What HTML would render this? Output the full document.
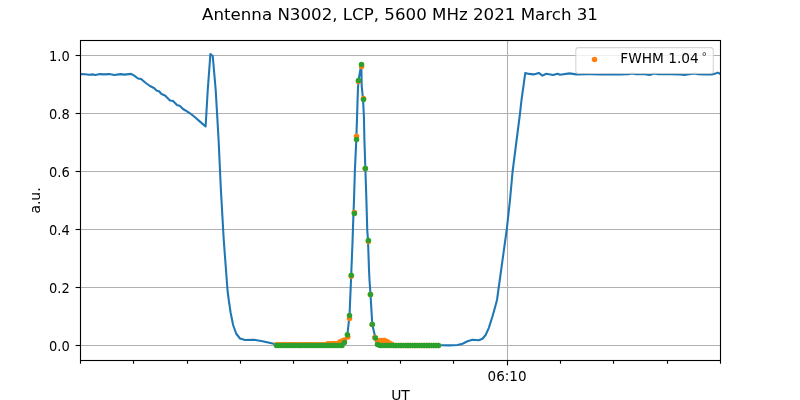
<!DOCTYPE html>
<html lang="en"><head><meta charset="utf-8"><title>Antenna N3002, LCP, 5600 MHz 2021 March 31</title>
<style>html,body{margin:0;padding:0;background:#fff;width:800px;height:400px;overflow:hidden}svg{display:block}</style></head>
<body>
<svg width="800" height="400" viewBox="0 0 800 400" font-family="'DejaVu Sans', 'Liberation Sans', sans-serif">
<rect width="800" height="400" fill="#fff"/>
<g stroke="#b0b0b0" stroke-width="1.11" fill="none">
<line x1="80.5" y1="345.5" x2="720.5" y2="345.5"/>
<line x1="80.5" y1="287.5" x2="720.5" y2="287.5"/>
<line x1="80.5" y1="229.5" x2="720.5" y2="229.5"/>
<line x1="80.5" y1="171.5" x2="720.5" y2="171.5"/>
<line x1="80.5" y1="113.5" x2="720.5" y2="113.5"/>
<line x1="80.5" y1="55.5" x2="720.5" y2="55.5"/>
<line x1="507.5" y1="40.5" x2="507.5" y2="360.5"/>
</g>
<defs><clipPath id="c"><rect x="80.5" y="40.5" width="640" height="320"/></clipPath></defs>
<g clip-path="url(#c)">
<polyline points="80.50,74.10 85.00,74.30 89.25,74.75 93.00,74.40 95.50,75.10 99.90,74.10 104.00,74.40 109.25,74.10 114.25,75.00 120.50,74.10 124.25,74.60 131.10,73.90 134.25,75.60 138.00,78.50 141.10,79.00 145.50,82.75 150.00,86.00 154.00,88.00 156.50,90.50 159.00,91.20 161.50,94.00 165.00,95.50 170.00,100.50 173.00,101.00 177.00,105.00 180.00,106.00 183.00,109.00 187.00,111.30 190.00,113.30 195.00,117.30 200.00,121.60 205.60,126.50 207.75,90.00 210.40,54.10 212.75,56.00 215.70,90.00 218.60,140.00 220.90,190.00 223.75,240.00 227.50,290.00 228.75,300.00 230.60,312.50 233.10,325.00 236.25,333.75 240.00,338.50 245.00,340.00 253.75,339.75 262.50,341.25 273.75,343.75 276.50,345.00 276.50,345.20 330.00,345.00 340.00,344.50 343.50,343.00 345.80,339.50 347.40,334.75 349.50,315.50 351.00,280.00 352.60,240.00 352.90,230.00 353.50,213.00 354.00,200.00 354.90,170.00 356.30,140.00 357.90,90.00 358.50,80.40 361.30,64.50 361.70,86.00 363.00,99.00 363.90,116.00 364.40,140.00 365.40,170.00 366.40,200.00 367.25,230.00 368.00,240.00 369.00,270.00 369.50,280.00 370.50,294.50 372.30,324.50 375.40,337.90 377.50,344.40 385.00,345.30 441.25,345.20 448.75,345.40 457.50,345.00 462.50,343.75 467.50,341.25 472.50,339.75 478.75,340.25 482.50,338.75 485.60,335.00 488.75,328.10 492.50,316.25 495.00,307.50 497.00,300.00 506.75,229.50 510.00,200.00 512.60,171.50 520.00,113.50 521.50,100.00 525.25,73.10 529.00,73.90 533.75,74.40 538.75,72.90 542.50,75.60 546.25,73.75 553.10,75.00 557.50,73.75 560.00,74.75 569.40,73.40 576.25,74.40 587.50,74.10 591.00,74.30 600.00,74.50 610.00,74.30 620.00,74.50 628.00,74.20 632.50,73.40 636.00,74.20 645.00,74.30 649.60,75.00 654.00,73.50 658.00,74.20 670.00,74.30 680.00,74.40 684.50,75.00 689.00,74.30 694.60,73.50 698.00,74.20 705.00,74.40 712.00,74.40 715.50,73.60 717.50,72.60 719.00,73.20 720.50,74.20" fill="none" stroke="#1f77b4" stroke-width="2.08" stroke-linejoin="round" stroke-linecap="butt"/>
<g fill="#ff7f0e"><circle cx="276.50" cy="344.80" r="2.75"/>
<circle cx="278.84" cy="344.80" r="2.75"/>
<circle cx="281.18" cy="344.80" r="2.75"/>
<circle cx="283.52" cy="344.80" r="2.75"/>
<circle cx="285.86" cy="344.80" r="2.75"/>
<circle cx="288.20" cy="344.80" r="2.75"/>
<circle cx="290.54" cy="344.80" r="2.75"/>
<circle cx="292.88" cy="344.80" r="2.75"/>
<circle cx="295.22" cy="344.80" r="2.75"/>
<circle cx="297.56" cy="344.80" r="2.75"/>
<circle cx="299.90" cy="344.80" r="2.75"/>
<circle cx="302.24" cy="344.80" r="2.75"/>
<circle cx="304.58" cy="344.80" r="2.75"/>
<circle cx="306.92" cy="344.80" r="2.75"/>
<circle cx="309.26" cy="344.80" r="2.75"/>
<circle cx="311.60" cy="344.80" r="2.75"/>
<circle cx="313.94" cy="344.80" r="2.75"/>
<circle cx="316.28" cy="344.80" r="2.75"/>
<circle cx="318.62" cy="344.80" r="2.75"/>
<circle cx="320.96" cy="344.80" r="2.75"/>
<circle cx="323.30" cy="344.80" r="2.75"/>
<circle cx="325.64" cy="344.80" r="2.75"/>
<circle cx="327.98" cy="343.80" r="2.75"/>
<circle cx="330.32" cy="343.80" r="2.75"/>
<circle cx="332.66" cy="343.80" r="2.75"/>
<circle cx="335.00" cy="343.80" r="2.75"/>
<circle cx="337.34" cy="343.80" r="2.75"/>
<circle cx="339.68" cy="341.90" r="2.75"/>
<circle cx="342.02" cy="340.90" r="2.75"/>
<circle cx="344.40" cy="340.00" r="2.75"/>
<circle cx="347.80" cy="337.00" r="2.75"/>
<circle cx="349.50" cy="318.50" r="2.75"/>
<circle cx="351.25" cy="276.30" r="2.75"/>
<circle cx="354.40" cy="212.40" r="2.75"/>
<circle cx="356.50" cy="136.20" r="2.75"/>
<circle cx="358.40" cy="81.60" r="2.75"/>
<circle cx="361.60" cy="66.40" r="2.75"/>
<circle cx="363.50" cy="98.40" r="2.75"/>
<circle cx="365.20" cy="168.40" r="2.75"/>
<circle cx="368.40" cy="241.60" r="2.75"/>
<circle cx="370.40" cy="294.60" r="2.75"/>
<circle cx="372.20" cy="324.60" r="2.75"/>
<circle cx="374.90" cy="337.40" r="2.75"/>
<circle cx="377.50" cy="341.20" r="2.75"/>
<circle cx="379.90" cy="340.40" r="2.75"/>
<circle cx="382.24" cy="340.40" r="2.75"/>
<circle cx="384.58" cy="340.40" r="2.75"/>
<circle cx="386.92" cy="341.55" r="2.75"/>
<circle cx="389.26" cy="342.96" r="2.75"/>
<circle cx="391.60" cy="344.36" r="2.75"/>
<circle cx="393.94" cy="345.50" r="2.75"/>
<circle cx="396.28" cy="345.50" r="2.75"/>
<circle cx="398.62" cy="345.50" r="2.75"/>
<circle cx="400.96" cy="345.50" r="2.75"/>
<circle cx="403.30" cy="345.50" r="2.75"/>
<circle cx="405.64" cy="345.50" r="2.75"/>
<circle cx="407.98" cy="345.50" r="2.75"/>
<circle cx="410.32" cy="345.50" r="2.75"/>
<circle cx="412.66" cy="345.50" r="2.75"/>
<circle cx="415.00" cy="345.50" r="2.75"/>
<circle cx="417.34" cy="345.50" r="2.75"/>
<circle cx="419.68" cy="345.50" r="2.75"/>
<circle cx="422.02" cy="345.50" r="2.75"/>
<circle cx="424.36" cy="345.50" r="2.75"/>
<circle cx="426.70" cy="345.50" r="2.75"/>
<circle cx="429.04" cy="345.50" r="2.75"/>
<circle cx="431.38" cy="345.50" r="2.75"/>
<circle cx="433.72" cy="345.50" r="2.75"/>
<circle cx="436.06" cy="345.50" r="2.75"/>
<circle cx="438.40" cy="345.50" r="2.75"/></g>
<g fill="#2ca02c"><circle cx="276.50" cy="345.50" r="2.75"/>
<circle cx="278.84" cy="345.50" r="2.75"/>
<circle cx="281.18" cy="345.50" r="2.75"/>
<circle cx="283.52" cy="345.50" r="2.75"/>
<circle cx="285.86" cy="345.50" r="2.75"/>
<circle cx="288.20" cy="345.50" r="2.75"/>
<circle cx="290.54" cy="345.50" r="2.75"/>
<circle cx="292.88" cy="345.50" r="2.75"/>
<circle cx="295.22" cy="345.50" r="2.75"/>
<circle cx="297.56" cy="345.50" r="2.75"/>
<circle cx="299.90" cy="345.50" r="2.75"/>
<circle cx="302.24" cy="345.50" r="2.75"/>
<circle cx="304.58" cy="345.50" r="2.75"/>
<circle cx="306.92" cy="345.50" r="2.75"/>
<circle cx="309.26" cy="345.50" r="2.75"/>
<circle cx="311.60" cy="345.50" r="2.75"/>
<circle cx="313.94" cy="345.50" r="2.75"/>
<circle cx="316.28" cy="345.50" r="2.75"/>
<circle cx="318.62" cy="345.50" r="2.75"/>
<circle cx="320.96" cy="345.50" r="2.75"/>
<circle cx="323.30" cy="345.50" r="2.75"/>
<circle cx="325.64" cy="345.50" r="2.75"/>
<circle cx="327.98" cy="345.50" r="2.75"/>
<circle cx="330.32" cy="345.50" r="2.75"/>
<circle cx="332.66" cy="345.50" r="2.75"/>
<circle cx="335.00" cy="345.50" r="2.75"/>
<circle cx="337.34" cy="345.50" r="2.75"/>
<circle cx="339.68" cy="345.50" r="2.75"/>
<circle cx="342.02" cy="345.50" r="2.75"/>
<circle cx="344.40" cy="342.50" r="2.75"/>
<circle cx="347.40" cy="334.75" r="2.75"/>
<circle cx="349.50" cy="315.50" r="2.75"/>
<circle cx="351.25" cy="275.25" r="2.75"/>
<circle cx="354.40" cy="213.40" r="2.75"/>
<circle cx="356.50" cy="139.40" r="2.75"/>
<circle cx="358.50" cy="80.40" r="2.75"/>
<circle cx="361.50" cy="64.40" r="2.75"/>
<circle cx="363.50" cy="99.50" r="2.75"/>
<circle cx="365.40" cy="168.40" r="2.75"/>
<circle cx="368.40" cy="240.60" r="2.75"/>
<circle cx="370.50" cy="294.50" r="2.75"/>
<circle cx="372.30" cy="324.50" r="2.75"/>
<circle cx="375.40" cy="337.90" r="2.75"/>
<circle cx="377.50" cy="344.40" r="2.75"/>
<circle cx="379.90" cy="345.50" r="2.75"/>
<circle cx="382.24" cy="345.50" r="2.75"/>
<circle cx="384.58" cy="345.50" r="2.75"/>
<circle cx="386.92" cy="345.50" r="2.75"/>
<circle cx="389.26" cy="345.50" r="2.75"/>
<circle cx="391.60" cy="345.50" r="2.75"/>
<circle cx="393.94" cy="345.50" r="2.75"/>
<circle cx="396.28" cy="345.50" r="2.75"/>
<circle cx="398.62" cy="345.50" r="2.75"/>
<circle cx="400.96" cy="345.50" r="2.75"/>
<circle cx="403.30" cy="345.50" r="2.75"/>
<circle cx="405.64" cy="345.50" r="2.75"/>
<circle cx="407.98" cy="345.50" r="2.75"/>
<circle cx="410.32" cy="345.50" r="2.75"/>
<circle cx="412.66" cy="345.50" r="2.75"/>
<circle cx="415.00" cy="345.50" r="2.75"/>
<circle cx="417.34" cy="345.50" r="2.75"/>
<circle cx="419.68" cy="345.50" r="2.75"/>
<circle cx="422.02" cy="345.50" r="2.75"/>
<circle cx="424.36" cy="345.50" r="2.75"/>
<circle cx="426.70" cy="345.50" r="2.75"/>
<circle cx="429.04" cy="345.50" r="2.75"/>
<circle cx="431.38" cy="345.50" r="2.75"/>
<circle cx="433.72" cy="345.50" r="2.75"/>
<circle cx="436.06" cy="345.50" r="2.75"/>
<circle cx="438.40" cy="345.50" r="2.75"/></g>
</g>
<g stroke="#000" stroke-width="1.11" fill="none">
<line x1="75.6" y1="345.5" x2="80.5" y2="345.5"/>
<line x1="75.6" y1="287.5" x2="80.5" y2="287.5"/>
<line x1="75.6" y1="229.5" x2="80.5" y2="229.5"/>
<line x1="75.6" y1="171.5" x2="80.5" y2="171.5"/>
<line x1="75.6" y1="113.5" x2="80.5" y2="113.5"/>
<line x1="75.6" y1="55.5" x2="80.5" y2="55.5"/>
<line x1="80.50" y1="360.5" x2="80.50" y2="363.7"/>
<line x1="133.50" y1="360.5" x2="133.50" y2="363.7"/>
<line x1="187.50" y1="360.5" x2="187.50" y2="363.7"/>
<line x1="240.50" y1="360.5" x2="240.50" y2="363.7"/>
<line x1="293.50" y1="360.5" x2="293.50" y2="363.7"/>
<line x1="347.50" y1="360.5" x2="347.50" y2="363.7"/>
<line x1="400.50" y1="360.5" x2="400.50" y2="363.7"/>
<line x1="453.50" y1="360.5" x2="453.50" y2="363.7"/>
<line x1="507.5" y1="360.5" x2="507.5" y2="365.4"/>
<line x1="560.50" y1="360.5" x2="560.50" y2="363.7"/>
<line x1="613.50" y1="360.5" x2="613.50" y2="363.7"/>
<line x1="667.50" y1="360.5" x2="667.50" y2="363.7"/>
<line x1="720.50" y1="360.5" x2="720.50" y2="363.7"/>
<rect x="80.5" y="40.5" width="640" height="320" stroke-linejoin="miter"/>
</g>
<g font-size="13.89px" fill="#000">
<text transform="translate(69.8,350.50) scale(0.94,1)" text-anchor="end">0.0</text>
<text transform="translate(69.8,292.50) scale(0.94,1)" text-anchor="end">0.2</text>
<text transform="translate(69.8,234.50) scale(0.94,1)" text-anchor="end">0.4</text>
<text transform="translate(69.8,176.50) scale(0.94,1)" text-anchor="end">0.6</text>
<text transform="translate(69.8,118.50) scale(0.94,1)" text-anchor="end">0.8</text>
<text transform="translate(69.8,60.50) scale(0.94,1)" text-anchor="end">1.0</text>
<text transform="translate(507.1,380.8) scale(0.975,1)" text-anchor="middle">06:10</text>
<text x="400.5" y="400.2" text-anchor="middle">UT</text>
<text transform="translate(40.2,200.5) rotate(-90)" text-anchor="middle">a.u.</text>
</g>
<text x="400" y="19.9" font-size="16.67px" text-anchor="middle" fill="#000">Antenna N3002, LCP, 5600 MHz 2021 March 31</text>
<rect x="575.8" y="47.6" width="137.5" height="25.9" rx="2.8" ry="2.8" fill="#fff" fill-opacity="0.8" stroke="#ccc" stroke-opacity="0.8" stroke-width="1.11"/>
<circle cx="594.5" cy="59.5" r="2.75" fill="#ff7f0e"/>
<text transform="translate(620.3,62.9) scale(0.988,1)" font-size="13.89px" fill="#000">FWHM 1.04<tspan dx="2.7" dy="-2.6" font-size="11.2px" fill="#333">°</tspan></text>
</svg>
</body></html>
